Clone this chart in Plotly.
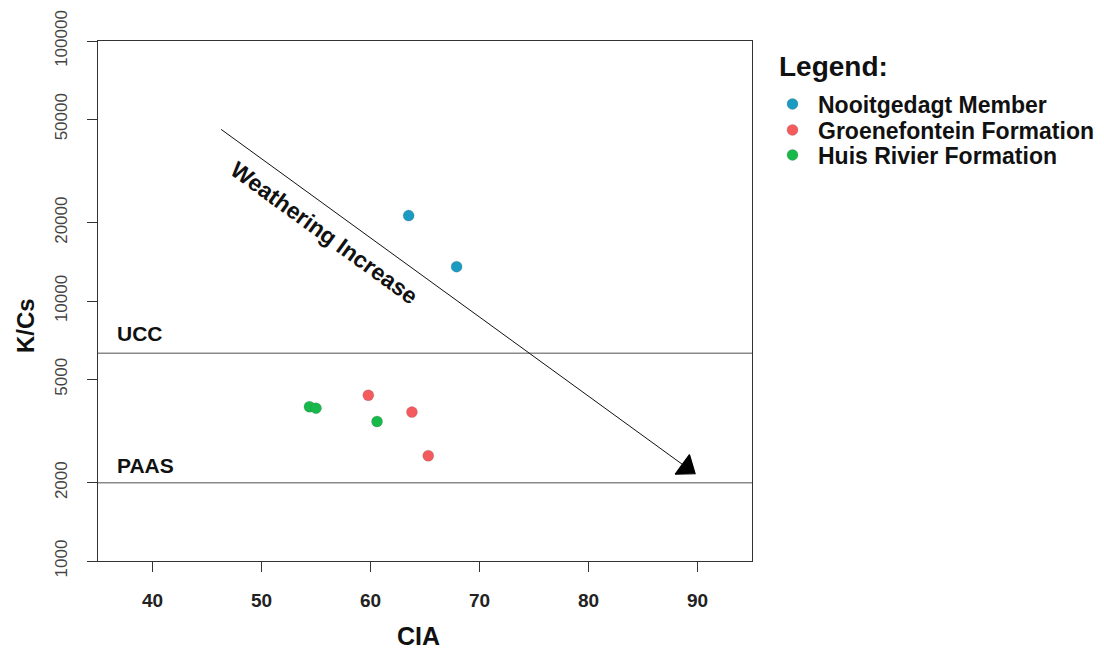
import numpy as np
import plotly.graph_objects as go

# ---- data ----
groups = ["Nooitgedagt Member", "Groenefontein Formation", "Huis Rivier Formation"]
colors = ["#1A9BC2", "#F55A5C", "#17B94A"]
noo_cia = [63.5, 67.9]
noo_kcs = [21300, 13550]
gro_cia = [59.8, 63.8, 65.3]
gro_kcs = [4340, 3740, 2540]
hui_cia = [54.4, 55.0, 60.6]
hui_kcs = [3920, 3870, 3440]
ucc_kcs = 6300
paas_kcs = 2000
arrow_cia = [46.3, 89.0]
arrow_kcs = [45700, 2290]
x_range = [35, 95]
x_ticks = [40, 50, 60, 70, 80, 90]
y_ticks = [1000, 2000, 5000, 10000, 20000, 50000, 100000]

FONT = "Liberation Sans, Arial, sans-serif"
NARROW = "Liberation Sans Narrow, Arial Narrow, Liberation Sans, sans-serif"

# figure-space helpers (plot area: left 98, right 752, top 41, bottom 561 in the window)
def px_x(xw):
    return (xw - 98) / 654

def px_y(yw):
    return (561 - yw) / 520

fig = go.Figure()

# reference lines (UCC, PAAS)
for v in (ucc_kcs, paas_kcs):
    fig.add_trace(go.Scatter(
        x=x_range, y=[v, v], mode="lines", showlegend=False,
        line=dict(color="#8a8a8a", width=1.5), hoverinfo="skip",
    ))

legend_ids = ["legend", "legend2", "legend3"]
for name, col, xs, ys, lg in zip(groups, colors,
                                  [noo_cia, gro_cia, hui_cia],
                                  [noo_kcs, gro_kcs, hui_kcs], legend_ids):
    fig.add_trace(go.Scatter(
        x=xs, y=ys, mode="markers", name=name, legend=lg,
        marker=dict(color=col, size=11, line=dict(color="rgba(80,80,80,0.35)", width=0.6)),
    ))

# arrow: shaft and head
fig.add_trace(go.Scatter(
    x=arrow_cia, y=arrow_kcs, mode="lines", showlegend=False,
    line=dict(color="#111", width=1), hoverinfo="skip",
))
fig.add_trace(go.Scatter(
    x=arrow_cia, y=arrow_kcs, mode="markers", showlegend=False,
    marker=dict(symbol=["circle", "triangle-up"], size=[0, 21], color="#000000",
                opacity=1, angleref="previous", line=dict(width=1.2, color="#000000")),
    hoverinfo="skip",
))

annotations = [
    dict(text="Weathering Increase", x=55.8, y=np.log10(18300), xref="x", yref="y",
         textangle=36, showarrow=False,
         font=dict(family=FONT, size=23, color="#111", weight="bold")),
    dict(text="UCC", x=36.6, y=np.log10(ucc_kcs), xref="x", yref="y",
         xanchor="left", yanchor="middle", yshift=20, showarrow=False,
         font=dict(family=FONT, size=21, color="#111", weight="bold")),
    dict(text="PAAS", x=36.6, y=np.log10(paas_kcs), xref="x", yref="y",
         xanchor="left", yanchor="middle", yshift=17, showarrow=False,
         font=dict(family=FONT, size=21, color="#111", weight="bold")),
    dict(text="Legend:", x=px_x(777), y=px_y(66), xref="paper", yref="paper",
         xanchor="left", yanchor="middle", showarrow=False,
         font=dict(family=FONT, size=28, color="#111", weight="bold")),
    dict(text="CIA", x=px_x(418), y=px_y(636), xref="paper", yref="paper",
         xanchor="center", yanchor="middle", showarrow=False,
         font=dict(family=FONT, size=25, color="#111", weight="bold")),
    dict(text="K/Cs", x=px_x(25), y=px_y(326), xref="paper", yref="paper",
         xanchor="center", yanchor="middle", textangle=-90, showarrow=False,
         font=dict(family=FONT, size=24, color="#111", weight="bold")),
]

legend_common = dict(
    xanchor="left", yanchor="middle", itemwidth=41, tracegroupgap=0,
    bgcolor="rgba(0,0,0,0)",
    font=dict(family=FONT, size=23, color="#111", weight="bold"),
)

fig.update_layout(
    width=1104, height=648,
    margin=dict(l=90, r=360, t=33, b=95, autoexpand=False),
    paper_bgcolor="white", plot_bgcolor="white",
    annotations=annotations,
    legend=dict(x=px_x(767), y=px_y(104), **legend_common),
    legend2=dict(x=px_x(767), y=px_y(130), **legend_common),
    legend3=dict(x=px_x(767), y=px_y(155), **legend_common),
    xaxis=dict(
        range=x_range, tickvals=x_ticks, ticktext=[str(t) for t in x_ticks],
        ticks="outside", ticklen=10, tickcolor="#333", showline=True, mirror=True,
        linecolor="#333", linewidth=1.2, showgrid=False, zeroline=False,
        tickfont=dict(family=FONT, size=19, color="#222", weight="bold"),
        ticklabelstandoff=12, automargin=False,
    ),
    yaxis=dict(
        type="log", range=[3, 5], tickvals=y_ticks, ticktext=[str(t) for t in y_ticks],
        tickangle=-90, ticks="outside", ticklen=10, tickcolor="#333", showline=True,
        mirror=True, linecolor="#333", linewidth=1.2, showgrid=False, zeroline=False,
        tickfont=dict(family=NARROW, size=17, color="#444"),
        ticklabelstandoff=13, ticklabeloverflow="allow", automargin=False,
    ),
)

fig.write_html("out.html")
